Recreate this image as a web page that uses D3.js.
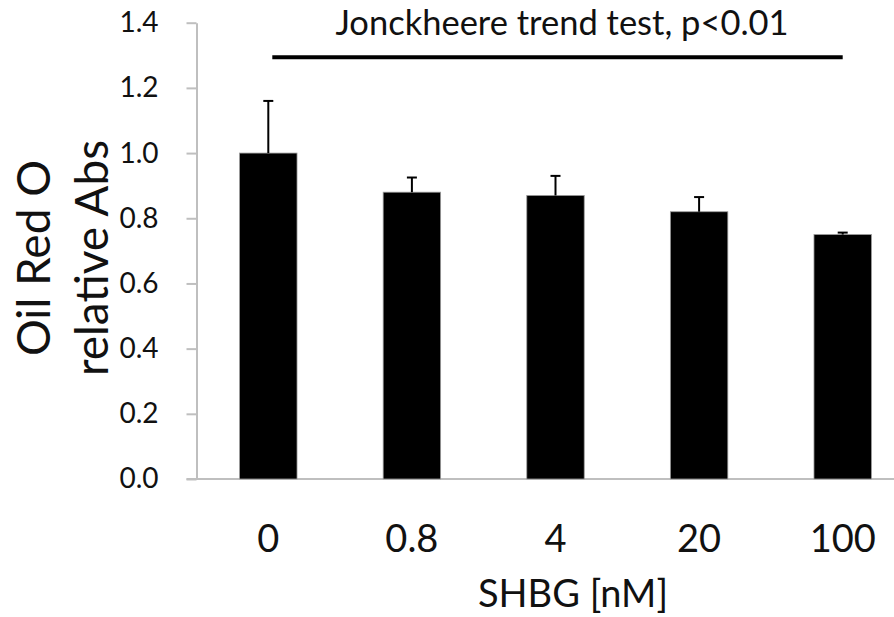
<!DOCTYPE html>
<html>
<head>
<meta charset="utf-8">
<script src="https://cdn.jsdelivr.net/npm/d3@7"></script>
<style>
  html, body { margin: 0; padding: 0; background: #fff; }
  svg { display: block; }
  text { font-family: Lato, "Open Sans", sans-serif; fill: #111; }
</style>
</head>
<body>
<svg id="chart" width="894" height="617"></svg>
<script>
// Oil Red O staining vs SHBG concentration
const categories = ["0", "0.8", "4", "20", "100"];
const means = [1.00, 0.88, 0.87, 0.82, 0.75];
const errors = [0.16, 0.045, 0.06, 0.045, 0.006];
const yTicks = [0.0, 0.2, 0.4, 0.6, 0.8, 1.0, 1.2, 1.4];
const trendLabel = "Jonckheere trend test, p<0.01";
const xTitle = "SHBG [nM]";
const yTitleLines = ["Oil Red O", "relative Abs"];

const svg = d3.select("#chart");

const plot = { left: 196.5, right: 914.5, top: 22.7, bottom: 479 };

const x = d3.scaleBand()
  .domain(categories)
  .range([plot.left, plot.right])
  .paddingInner(0.6)
  .paddingOuter(0.3);

const y = d3.scaleLinear()
  .domain([0, 1.4])
  .range([plot.bottom, plot.top]);

// y axis: light grey line with outward ticks
const yAxis = d3.axisLeft(y)
  .tickValues(yTicks)
  .tickFormat(d3.format(".1f"))
  .tickSize(10)
  .tickSizeOuter(0)
  .tickPadding(28);

const gy = svg.append("g")
  .attr("transform", `translate(${plot.left},0)`)
  .call(yAxis);
gy.select(".domain").attr("stroke", "#bfbfbf").attr("stroke-width", 2);
gy.selectAll(".tick line").attr("stroke", "#bfbfbf").attr("stroke-width", 2);
gy.selectAll(".tick text")
  .attr("font-size", 28)
  .attr("font-family", "Lato, sans-serif")
  .attr("fill", "#1a1a1a");

// x axis baseline
svg.append("line")
  .attr("x1", plot.left - 10)
  .attr("x2", plot.right)
  .attr("y1", y(0))
  .attr("y2", y(0))
  .attr("stroke", "#bfbfbf")
  .attr("stroke-width", 2);

// bars
svg.append("g")
  .selectAll("rect")
  .data(categories)
  .join("rect")
  .attr("x", d => x(d))
  .attr("width", x.bandwidth())
  .attr("y", (d, i) => y(means[i]))
  .attr("height", (d, i) => y(0) - y(means[i]))
  .attr("fill", "#000")
  .attr("stroke", "#9a9a9a")
  .attr("stroke-width", 0.8);

// upper error bars
const eb = svg.append("g").attr("stroke", "#000").attr("stroke-width", 2);
categories.forEach((c, i) => {
  const cx = x(c) + x.bandwidth() / 2;
  eb.append("line")
    .attr("x1", cx).attr("x2", cx)
    .attr("y1", y(means[i])).attr("y2", y(means[i] + errors[i]));
  eb.append("line")
    .attr("x1", cx - 5).attr("x2", cx + 5)
    .attr("y1", y(means[i] + errors[i])).attr("y2", y(means[i] + errors[i]));
});

// category labels
svg.append("g")
  .selectAll("text")
  .data(categories)
  .join("text")
  .attr("x", d => x(d) + x.bandwidth() / 2)
  .attr("y", 552)
  .attr("text-anchor", "middle")
  .attr("font-size", 38)
  .text(d => d);

// x axis title
svg.append("text")
  .attr("x", 573)
  .attr("y", 607)
  .attr("text-anchor", "middle")
  .attr("font-size", 38)
  .text(xTitle);

// y axis title, two lines
const yt = svg.append("text")
  .attr("transform", "translate(50,258) rotate(-90)")
  .attr("text-anchor", "middle")
  .attr("font-size", 46);
yTitleLines.forEach((t, i) => {
  yt.append("tspan")
    .attr("x", 0)
    .attr("y", i * 58)
    .text(t);
});

// trend bracket across all groups
const first = x(categories[0]) + x.bandwidth() / 2;
const last = x(categories[categories.length - 1]) + x.bandwidth() / 2;
svg.append("line")
  .attr("x1", first + 4)
  .attr("x2", last)
  .attr("y1", 57.3)
  .attr("y2", 57.3)
  .attr("stroke", "#000")
  .attr("stroke-width", 4);

svg.append("text")
  .attr("x", 562)
  .attr("y", 35)
  .attr("text-anchor", "middle")
  .attr("font-size", 34.5)
  .text(trendLabel);
</script>
</body>
</html>
